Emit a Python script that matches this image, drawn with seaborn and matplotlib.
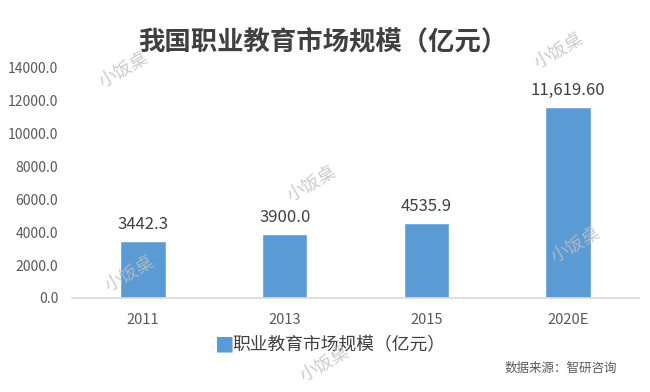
import matplotlib
matplotlib.use("Agg")
import matplotlib.pyplot as plt
import pandas as pd
import seaborn as sns

years = ["2011", "2013", "2015", "2020E"]
values = [3442.3, 3900.0, 4535.9, 11619.60]
value_labels = ["3442.3", "3900.0", "4535.9", "11,619.60"]
series_name = "职业教育市场规模（亿元）"
title = "我国职业教育市场规模（亿元）"
source = "数据来源：智研咨询"
watermark = "小饭桌"

sns.set_theme(style="white")
plt.rcParams["font.family"] = ["Noto Sans CJK SC", "DejaVu Sans"]

df = pd.DataFrame({"year": years, "value": values, "series": series_name})

fig = plt.figure(figsize=(6.5, 3.92), dpi=100)
ax = fig.add_axes([0.111, 0.240, 0.872, 0.587])
bar_color = "#5B9BD5"
sns.barplot(data=df, x="year", y="value", hue="series", palette=[bar_color],
            width=0.32, saturation=1, ax=ax, legend=False)

for i, lab in enumerate(value_labels):
    ax.text(i, values[i] + 500, lab, ha="center", va="bottom", fontsize=12, color="#404040")

ax.set_ylim(0, 14000)
ax.set_yticks(range(0, 14001, 2000))
ax.set_yticklabels([f"{v:.1f}" for v in range(0, 14001, 2000)], fontsize=10, color="#595959")
ax.tick_params(axis="x", labelsize=10.5, colors="#595959", length=0, pad=11)
ax.tick_params(axis="y", length=0, pad=10)
ax.set_xlabel("")
ax.set_ylabel("")
for s in ["top", "right", "left"]:
    ax.spines[s].set_visible(False)
ax.spines["bottom"].set_color("#D9D9D9")
ax.set_xlim(-0.5, 3.5)

# legend drawn as marker + text
fig.text(0.345, 0.118, "■", fontsize=14, color=bar_color, ha="center", va="center")
fig.text(0.357, 0.118, series_name, fontsize=12.8, color="#404040", ha="left", va="center")

fig.text(0.497, 0.89, title, fontsize=19, fontweight="bold", color="#404040",
         ha="center", va="center")
fig.text(0.95, 0.06, source, fontsize=9, color="#595959", ha="right", va="center")

# watermarks
for (x, y) in [(0.19, 0.82), (0.86, 0.87), (0.48, 0.53), (0.885, 0.375), (0.2, 0.3), (0.5, 0.07)]:
    fig.text(x, y, watermark, fontsize=13, color="#BFBFBF", alpha=0.8, rotation=30,
             ha="center", va="center")

fig.savefig("out.png", dpi=100)
